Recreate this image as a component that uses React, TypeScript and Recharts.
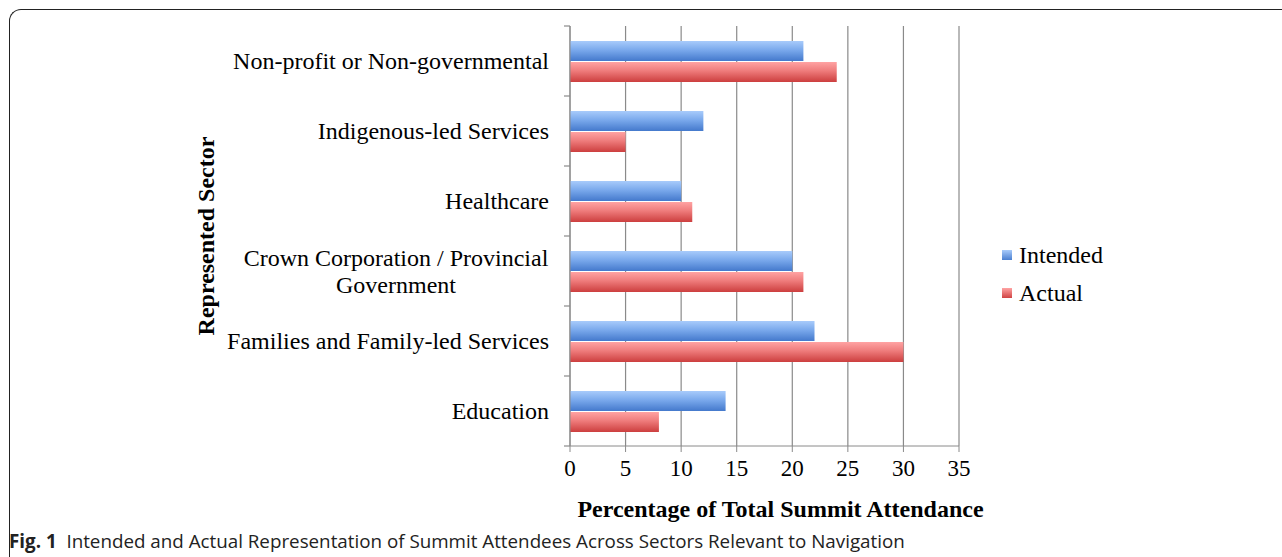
import React from 'react';
import { BarChart, Bar, XAxis, YAxis, CartesianGrid, Legend } from 'recharts';

const categories = [
  'Non-profit or Non-governmental',
  'Indigenous-led Services',
  'Healthcare',
  'Crown Corporation / Provincial\nGovernment',
  'Families and Family-led Services',
  'Education',
];
const intended = [21, 12, 10, 20, 22, 14];
const actual = [24, 5, 11, 21, 30, 8];
const xTicks = [0, 5, 10, 15, 20, 25, 30, 35];

const data = categories.map((c, i) => ({ sector: c, Intended: intended[i], Actual: actual[i] }));

const SERIF = '"Liberation Serif", "DejaVu Serif", serif';
const CHART_H = 557;
const TOP = 26;
const X_AXIS_H = 111;
const HALF_BAND = (CHART_H - TOP - X_AXIS_H) / categories.length / 2;
const TICK_SIZE = 6;
const TICK_MARGIN = 15;

const YTick = (props: any) => {
  const { x, y, payload, index } = props;
  const lines = String(payload.value).split('\n');
  const lh = 27;
  const start = -((lines.length - 1) * lh) / 2;
  const axisX = x + TICK_SIZE + TICK_MARGIN;
  const firstLen = lines[0].length;
  // center subsequent lines under the first line (approx. half width of first line)
  const approxHalf = firstLen * 5.1;
  return (
    <g>
      <line x1={axisX - TICK_SIZE} x2={axisX} y1={y - HALF_BAND} y2={y - HALF_BAND} stroke="#8a8a8a" strokeWidth={1.2} />
      {index === categories.length - 1 && (
        <line x1={axisX - TICK_SIZE} x2={axisX} y1={y + HALF_BAND} y2={y + HALF_BAND} stroke="#8a8a8a" strokeWidth={1.2} />
      )}
      {lines.length === 1 ? (
        <text x={x} y={y} dy={8} textAnchor="end" fontFamily={SERIF} fontSize={24} fill="#000">
          {lines[0]}
        </text>
      ) : (
        <text x={x - approxHalf} y={y} textAnchor="middle" fontFamily={SERIF} fontSize={24} fill="#000">
          {lines.map((l, i) => (
            <tspan key={i} x={x - approxHalf} dy={i === 0 ? start + 8 : lh}>{l}</tspan>
          ))}
        </text>
      )}
    </g>
  );
};

const LegendContent = () => {
  const items = [
    { name: 'Intended', grad: 'linear-gradient(#a8cbfb, #4a7fd0)' },
    { name: 'Actual', grad: 'linear-gradient(#ffa3a3, #cf4343)' },
  ];
  return (
    <div style={{ fontFamily: SERIF, fontSize: 24, color: '#000', paddingLeft: 43 }}>
      {items.map((it) => (
        <div key={it.name} style={{ display: 'flex', alignItems: 'center', height: 38 }}>
          <span style={{ display: 'inline-block', width: 10, height: 10, background: it.grad, marginRight: 7 }} />
          <span>{it.name}</span>
        </div>
      ))}
    </div>
  );
};

export default function App() {
  return (
    <div style={{ position: 'fixed', left: 0, top: 0, width: 1282, height: 557, overflow: 'hidden', background: '#fff' }}>
      <div
        style={{
          position: 'absolute', left: 9, top: 9, width: 1400, height: 600,
          borderTop: '1.5px solid #222', borderLeft: '1.5px solid #222', borderTopLeftRadius: 12,
        }}
      />
      <div style={{ position: 'absolute', left: 0, top: 0 }}>
        <BarChart
          width={1282}
          height={CHART_H}
          data={data}
          layout="vertical"
          margin={{ top: TOP, right: 0, bottom: 0, left: 0 }}
          barSize={20}
          barGap={1}
        >
          <defs>
            <linearGradient id="gBlue" x1="0" y1="0" x2="0" y2="1">
              <stop offset="0%" stopColor="#a8cbfb" />
              <stop offset="45%" stopColor="#7aa9ec" />
              <stop offset="100%" stopColor="#4479cc" />
            </linearGradient>
            <linearGradient id="gRed" x1="0" y1="0" x2="0" y2="1">
              <stop offset="0%" stopColor="#ffa3a3" />
              <stop offset="45%" stopColor="#ee7b7b" />
              <stop offset="100%" stopColor="#cc3e3e" />
            </linearGradient>
          </defs>
          <CartesianGrid horizontal={false} vertical={true} stroke="#8a8a8a" strokeWidth={1.2} />
          <XAxis
            type="number"
            domain={[0, 35]}
            ticks={xTicks}
            interval={0}
            stroke="#8a8a8a"
            tickSize={6}
            tickMargin={8}
            tick={{ fontFamily: SERIF, fontSize: 23, fill: '#000' }}
            label={{
              value: 'Percentage of Total Summit Attendance',
              position: 'insideBottom',
              offset: 40,
              dx: 16,
              style: { fontFamily: SERIF, fontSize: 24, fontWeight: 'bold', fill: '#000' },
            }}
            height={X_AXIS_H}
          />
          <YAxis
            type="category"
            dataKey="sector"
            width={570}
            stroke="#8a8a8a"
            tickLine={false}
            tickSize={TICK_SIZE}
            tickMargin={TICK_MARGIN}
            tick={<YTick />}
            interval={0}
            label={{
              value: 'Represented Sector',
              angle: -90,
              position: 'insideLeft',
              offset: 205,
              style: { fontFamily: SERIF, fontSize: 24, fontWeight: 'bold', fill: '#000', textAnchor: 'middle' },
            }}
          />
          <Legend
            layout="vertical"
            verticalAlign="middle"
            align="right"
            content={<LegendContent />}
            wrapperStyle={{ position: 'absolute', left: 959, top: 236, width: 323 }}
          />
          <Bar dataKey="Intended" fill="url(#gBlue)" isAnimationActive={false} />
          <Bar dataKey="Actual" fill="url(#gRed)" isAnimationActive={false} />
        </BarChart>
      </div>
      <div
        style={{
          position: 'absolute', left: 9, top: 530, fontFamily: '"Open Sans", sans-serif', fontSize: 18.8,
          color: '#222', whiteSpace: 'nowrap', lineHeight: '22px',
        }}
      >
        <b>Fig. 1</b>&nbsp; Intended and Actual Representation of Summit Attendees Across Sectors Relevant to Navigation
      </div>
    </div>
  );
}
